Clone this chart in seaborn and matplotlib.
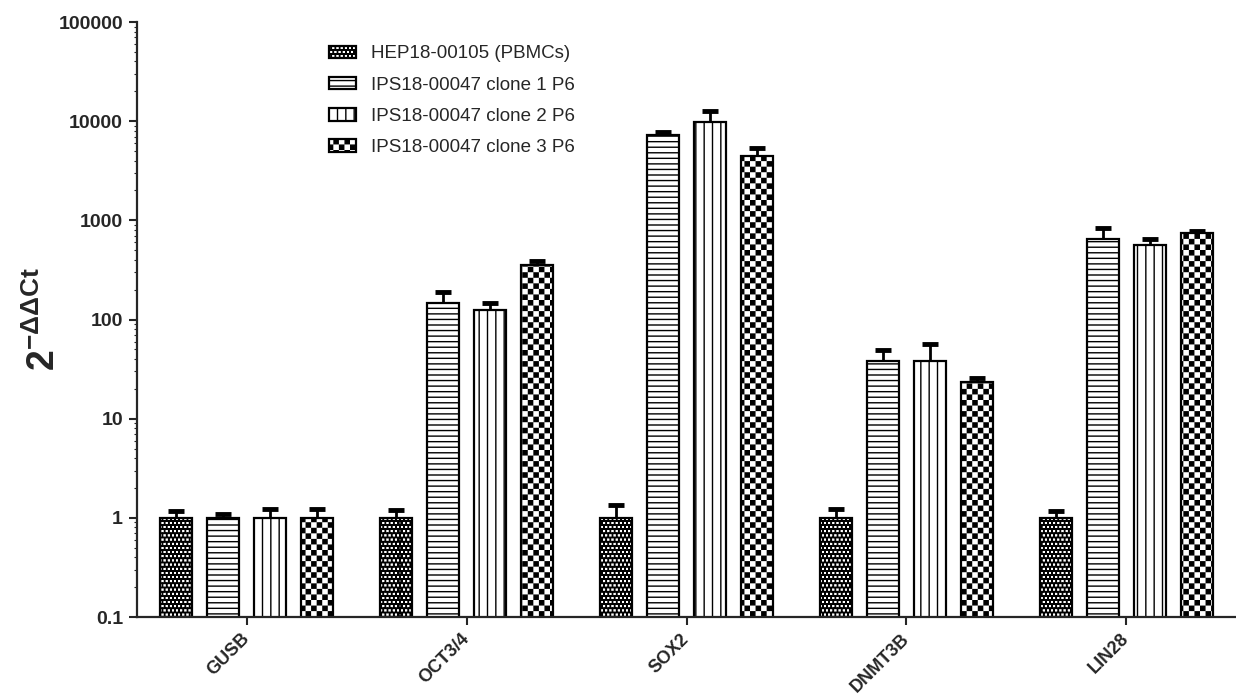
import numpy as np
import pandas as pd
import matplotlib
matplotlib.use("Agg")
import matplotlib.pyplot as plt
import seaborn as sns
from matplotlib import hatch as mhatch
from matplotlib.path import Path
from matplotlib.patches import Patch

genes = ["GUSB", "OCT3/4", "SOX2", "DNMT3B", "LIN28"]
samples = ["HEP18-00105 (PBMCs)", "IPS18-00047 clone 1 P6",
           "IPS18-00047 clone 2 P6", "IPS18-00047 clone 3 P6"]

# relative expression (2^-ddCt) and upper error
hep_mean = [1.0, 1.0, 1.0, 1.0, 1.0]
hep_err = [0.17, 0.2, 0.36, 0.22, 0.17]
clone1_mean = [1.0, 148, 7310, 37.8, 641]
clone1_err = [0.1, 40, 400, 11, 200]
clone2_mean = [1.0, 126, 9890, 38.1, 558]
clone2_err = [0.22, 21, 2660, 18, 83]
clone3_mean = [1.0, 353, 4490, 23.4, 741]
clone3_err = [0.23, 32, 830, 2.3, 48]

means = [hep_mean, clone1_mean, clone2_mean, clone3_mean]
errs = [hep_err, clone1_err, clone2_err, clone3_err]
hatches = ["oooo", "---", "||", "***"]

HATCH_LW = 1.0
LW_UNIT = HATCH_LW / 72.0  # hatch stroke width in hatch-cell units


# checkerboard, used in place of the star hatch ('*')
class CheckerHatch(mhatch.HatchPatternBase):
    def __init__(self, hatch, density):
        self.n = 2 * ((hatch.count("*") * density) // 2)
        self.num_vertices = (self.n * self.n // 2) * 5

    def set_vertices_and_codes(self, vertices, codes):
        s = 1.0 / self.n
        d = LW_UNIT / 2
        k = 0
        for i in range(self.n):
            for j in range(self.n):
                if (i + j) % 2 == 0:
                    x0, y0 = i * s + d, j * s + d
                    x1, y1 = (i + 1) * s - d, (j + 1) * s - d
                    vertices[k:k + 5] = [(x0, y0), (x1, y0), (x1, y1),
                                         (x0, y1), (x0, y0)]
                    codes[k:k + 5] = [Path.MOVETO, Path.LINETO, Path.LINETO,
                                      Path.LINETO, Path.CLOSEPOLY]
                    k += 5


# black fill with small white holes, used in place of the small circles ('o')
class DotHoleHatch(mhatch.HatchPatternBase):
    def __init__(self, hatch, density):
        k = hatch.count("o")
        self.n = 2 * ((k * density) // 2)
        if self.n:
            self.num_vertices = 5 + 5 * (self.n // 2) * (2 * self.n + 1)
        else:
            self.num_vertices = 0

    def set_vertices_and_codes(self, vertices, codes):
        n = self.n
        s = 1.0 / n
        h = 0.6 * s / 2 + LW_UNIT / 2
        box = [Path.MOVETO, Path.LINETO, Path.LINETO, Path.LINETO, Path.CLOSEPOLY]
        vertices[0:5] = [(0, 0), (1, 0), (1, 1), (0, 1), (0, 0)]
        codes[0:5] = box
        k = 5
        for i in range(n):
            cy = (i + 0.5) * s
            if i % 2 == 0:
                cxs = [j * s for j in range(n + 1)]
            else:
                cxs = [(j + 0.5) * s for j in range(n)]
            for cx in cxs:
                vertices[k:k + 5] = [(cx - h, cy - h), (cx - h, cy + h),
                                     (cx + h, cy + h), (cx + h, cy - h),
                                     (cx - h, cy - h)]
                codes[k:k + 5] = box
                k += 5


mhatch._hatch_types = [t for t in mhatch._hatch_types
                       if t not in (mhatch.Stars, mhatch.SmallCircles)]
mhatch._hatch_types += [CheckerHatch, DotHoleHatch]

rows = []
for s, m, e in zip(samples, means, errs):
    for g, v, d in zip(genes, m, e):
        rows.append({"gene": g, "sample": s, "value": v, "err": d})
df = pd.DataFrame(rows)

sns.set_style("ticks")
plt.rcParams["font.family"] = ["Liberation Sans", "DejaVu Sans"]
plt.rcParams["mathtext.fontset"] = "custom"
plt.rcParams["mathtext.rm"] = "Liberation Sans"
plt.rcParams["mathtext.bf"] = "Liberation Sans:bold"
plt.rcParams["hatch.linewidth"] = HATCH_LW

fig = plt.figure(figsize=(12.36, 6.97), dpi=100)
ax = fig.add_axes([137 / 1236, 80 / 697, 1099 / 1236, 595 / 697])

sns.barplot(data=df, x="gene", y="value", hue="sample", order=genes,
            hue_order=samples, palette=["white"] * 4, errorbar=None,
            width=0.855, gap=0.32, edgecolor="black", linewidth=1.6,
            legend=False, ax=ax)

for cont, h, e in zip(ax.containers, hatches, errs):
    xs, ys = [], []
    for p in cont.patches:
        p.set_hatch(h)
        p.set_edgecolor("black")
        xs.append(p.get_x() + p.get_width() / 2)
        ys.append(p.get_height())
    _, caps, _ = ax.errorbar(xs, ys, yerr=[np.zeros(len(e)), e], fmt="none",
                             ecolor="black", elinewidth=2, capsize=6,
                             capthick=3.5, zorder=3)
    caps[0].set_visible(False)

ax.set_yscale("log")
ax.set_ylim(0.1, 100000)
ax.set_xlim(-0.5, 4.5)
ax.set_yticks([0.1, 1, 10, 100, 1000, 10000, 100000])
ax.set_yticklabels(["0.1", "1", "10", "100", "1000", "10000", "100000"],
                   fontsize=14, fontweight="bold")
ax.set_xticks(range(len(genes)))
ax.set_xticklabels(genes, rotation=45, ha="right", va="center",
                   rotation_mode="anchor", fontsize=13, fontweight="bold")
ax.tick_params(axis="y", which="major", length=6, width=1.5, pad=4)
ax.tick_params(axis="y", which="minor", length=2, width=0.8)
ax.tick_params(axis="x", length=6, width=1.5, pad=8)
ax.set_xlabel("")
ax.set_ylabel(r"$\mathbf{2^{-\Delta\Delta Ct}}$", fontsize=27, labelpad=-3)
for side in ["top", "right"]:
    ax.spines[side].set_visible(False)
for side in ["left", "bottom"]:
    ax.spines[side].set_linewidth(1.6)

handles = [Patch(facecolor="white", edgecolor="black", hatch=h, linewidth=1.6)
           for h in hatches]
ax.legend(handles, samples, loc="upper left", bbox_to_anchor=(0.159, 0.989),
          frameon=False, fontsize=13.5, handlelength=1.45, handleheight=0.65,
          labelspacing=0.76, handletextpad=0.8)

fig.savefig("out.png", dpi=100)
